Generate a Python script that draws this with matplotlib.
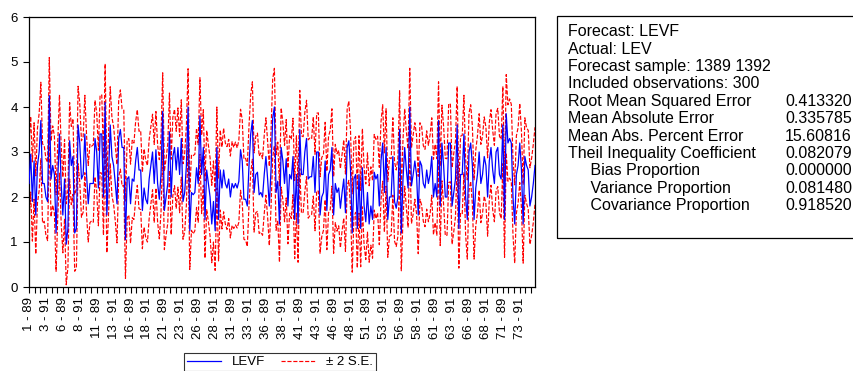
"""
EViews-style forecast evaluation chart: LEVF with +/- 2 S.E. bands
and the forecast statistics box on the right.
"""

import numpy as np
import matplotlib.pyplot as plt
from matplotlib.patches import Rectangle
from matplotlib.ticker import MultipleLocator

plt.rcParams["font.family"] = ["Liberation Sans", "DejaVu Sans"]

# ============================================================
# Data
# ============================================================
levf = [
    2.30, 2.95, 1.90, 2.80, 1.60, 2.70, 3.00, 3.70, 2.30, 2.30,
    2.00, 1.90, 4.25, 2.40, 2.70, 2.50, 1.20, 2.40, 3.40, 2.30,
    1.60, 2.40, 0.95, 1.30, 3.25, 2.70, 2.90, 1.20, 1.30, 3.60,
    3.20, 2.40, 2.50, 3.40, 2.50, 1.85, 2.30, 2.30, 2.30, 3.30,
    3.00, 2.20, 3.40, 3.40, 2.00, 4.10, 1.60, 2.50, 3.60, 2.90,
    2.70, 2.30, 1.85, 3.30, 3.50, 3.10, 3.10, 1.05, 2.40, 2.45,
    1.85, 2.40, 2.35, 2.80, 3.10, 2.60, 2.60, 1.70, 2.20, 1.95,
    1.85, 2.40, 2.70, 3.00, 2.30, 3.05, 2.30, 1.95, 2.50, 3.90,
    1.70, 2.00, 2.30, 3.45, 2.00, 2.90, 3.10, 2.60, 3.10, 2.50,
    3.30, 1.90, 2.10, 2.70, 4.00, 1.25, 2.10, 2.05, 2.10, 2.65,
    2.30, 3.80, 2.50, 3.10, 1.50, 2.60, 2.30, 2.00, 1.40, 1.90,
    1.25, 3.10, 1.50, 2.60, 2.20, 2.60, 2.30, 2.20, 2.40, 2.00,
    2.30, 2.20, 2.30, 2.20, 2.35, 3.05, 2.80, 1.95, 1.95, 1.80,
    2.70, 3.40, 3.70, 2.10, 2.50, 2.55, 2.05, 2.10, 2.00, 2.50,
    2.90, 2.40, 1.80, 2.60, 3.75, 4.00, 2.10, 2.35, 1.40, 3.10,
    2.80, 2.30, 2.85, 1.80, 2.50, 2.40, 2.90, 1.50, 2.50, 1.40,
    3.50, 2.50, 2.50, 3.00, 3.30, 2.40, 2.45, 2.45, 2.90, 2.10,
    3.00, 3.00, 1.60, 2.00, 2.10, 2.80, 1.70, 2.50, 2.60, 3.10,
    1.60, 2.30, 2.10, 2.20, 1.75, 2.10, 2.40, 1.65, 3.10, 3.25,
    2.60, 1.20, 2.40, 2.50, 1.30, 2.50, 1.30, 2.65, 1.80, 1.45,
    2.10, 1.40, 1.80, 1.50, 2.55, 2.40, 2.50, 1.80, 2.80, 3.20,
    2.10, 3.10, 1.50, 2.00, 2.00, 2.90, 1.90, 1.75, 2.00, 3.50,
    1.20, 2.40, 3.10, 2.60, 2.20, 4.00, 2.25, 2.50, 2.80, 2.50,
    1.60, 2.80, 2.70, 2.30, 2.20, 2.60, 2.30, 2.50, 2.90, 2.00,
    2.30, 2.00, 3.70, 1.80, 3.20, 2.70, 2.00, 2.00, 3.20, 3.20,
    1.80, 2.10, 2.40, 3.60, 1.30, 2.50, 2.50, 3.40, 2.00, 1.50,
    3.00, 3.20, 2.70, 1.50, 2.20, 2.50, 3.00, 2.30, 2.50, 2.90,
    2.70, 2.00, 2.80, 3.10, 2.60, 2.30, 3.00, 3.10, 2.50, 2.40,
    3.60, 1.50, 3.85, 3.20, 3.30, 3.20, 2.00, 1.40, 2.50, 2.70,
    3.20, 2.60, 1.40, 2.90, 2.70, 2.60, 1.80, 2.00, 2.30, 2.70,
]

# two standard errors for each forecast
two_se = [
    0.86, 0.84, 0.88, 0.85, 0.87, 0.83, 0.86, 0.85, 0.88, 0.84,
    0.85, 0.87, 0.85, 0.84, 0.88, 0.86, 0.85, 0.83, 0.87, 0.86,
    0.84, 0.88, 0.90, 0.86, 0.85, 0.87, 0.84, 0.85, 0.88, 0.86,
    0.87, 0.85, 0.84, 0.86, 0.88, 0.85, 0.87, 0.83, 0.86, 0.85,
    0.88, 0.84, 0.86, 0.87, 0.85, 0.86, 0.84, 0.88, 0.85, 0.87,
    0.86, 0.84, 0.87, 0.85, 0.88, 0.86, 0.84, 0.86, 0.87, 0.85,
    0.88, 0.86, 0.85, 0.87, 0.84, 0.86, 0.88, 0.85, 0.87, 0.86,
    0.85, 0.88, 0.86, 0.84, 0.87, 0.85, 0.86, 0.88, 0.84, 0.86,
    0.87, 0.85, 0.88, 0.86, 0.84, 0.87, 0.85, 0.86, 0.88, 0.85,
    0.86, 0.84, 0.87, 0.88, 0.85, 0.86, 0.84, 0.87, 0.85, 0.88,
    0.86, 0.85, 0.87, 0.84, 0.86, 0.88, 0.85, 0.87, 0.86, 0.90,
    0.88, 0.90, 0.92, 0.89, 0.91, 0.93, 0.90, 0.92, 0.88, 0.91,
    0.93, 0.90, 0.92, 0.89, 0.91, 0.90, 0.92, 0.89, 0.91, 0.90,
    0.88, 0.87, 0.86, 0.88, 0.85, 0.87, 0.86, 0.88, 0.85, 0.87,
    0.86, 0.84, 0.88, 0.85, 0.87, 0.86, 0.84, 0.87, 0.85, 0.88,
    0.86, 0.85, 0.87, 0.84, 0.86, 0.88, 0.85, 0.87, 0.86, 0.85,
    0.87, 0.86, 0.84, 0.88, 0.85, 0.87, 0.86, 0.84, 0.88, 0.85,
    0.86, 0.87, 0.85, 0.88, 0.84, 0.86, 0.87, 0.85, 0.88, 0.86,
    0.85, 0.87, 0.86, 0.84, 0.88, 0.85, 0.87, 0.86, 0.85, 0.88,
    0.86, 0.87, 0.85, 0.84, 0.88, 0.86, 0.85, 0.87, 0.86, 0.84,
    0.88, 0.85, 0.87, 0.86, 0.84, 0.88, 0.85, 0.86, 0.87, 0.85,
    0.88, 0.86, 0.84, 0.87, 0.85, 0.86, 0.88, 0.85, 0.87, 0.86,
    0.84, 0.88, 0.86, 0.85, 0.87, 0.86, 0.84, 0.88, 0.85, 0.87,
    0.86, 0.85, 0.88, 0.84, 0.86, 0.87, 0.85, 0.88, 0.86, 0.84,
    0.87, 0.85, 0.86, 0.88, 0.84, 0.87, 0.86, 0.85, 0.88, 0.86,
    0.85, 0.87, 0.84, 0.86, 0.88, 0.85, 0.87, 0.86, 0.84, 0.88,
    0.86, 0.85, 0.87, 0.88, 0.84, 0.86, 0.85, 0.87, 0.86, 0.88,
    0.85, 0.87, 0.86, 0.84, 0.88, 0.85, 0.86, 0.87, 0.85, 0.88,
    0.86, 0.84, 0.87, 0.85, 0.88, 0.86, 0.85, 0.87, 0.86, 0.84,
    0.88, 0.85, 0.87, 0.86, 0.84, 0.88, 0.85, 0.86, 0.87, 0.85,
]

tick_labels = [
    "1 - 89", "3 - 91", "6 - 89", "8 - 91", "11 - 89", "13 - 91",
    "16 - 89", "18 - 91", "21 - 89", "23 - 91", "26 - 89", "28 - 91",
    "31 - 89", "33 - 91", "36 - 89", "38 - 91", "41 - 89", "43 - 91",
    "46 - 89", "48 - 91", "51 - 89", "53 - 91", "56 - 89", "58 - 91",
    "61 - 89", "63 - 91", "66 - 89", "68 - 91", "71 - 89", "73 - 91",
]

stat_names = [
    "Root Mean Squared Error", "Mean Absolute Error",
    "Mean Abs. Percent Error", "Theil Inequality Coefficient",
    "     Bias Proportion", "     Variance Proportion",
    "     Covariance Proportion",
]
stat_values = ["0.413320", "0.335785", "15.60816", "0.082079",
               "0.000000", "0.081480", "0.918520"]
header_lines = ["Forecast: LEVF", "Actual: LEV",
                "Forecast sample: 1389 1392", "Included observations: 300"]

# ============================================================
# Plot
# ============================================================
W, H = 854, 371
fig = plt.figure(figsize=(W / 100, H / 100), dpi=100)
ax = fig.add_axes([29 / W, 1 - 287 / H, (535 - 29) / W, (287 - 17) / H])

obs = np.arange(len(levf))
f = np.array(levf)
se2 = np.array(two_se)

ax.plot(obs, f, color="#0000ff", lw=0.9, label="LEVF", zorder=3)
ax.plot(obs, f + se2, color="#ff0000", lw=0.85, ls=(0, (3.5, 1.5)),
        label="± 2 S.E.", zorder=2)
ax.plot(obs, f - se2, color="#ff0000", lw=0.85, ls=(0, (3.5, 1.5)), zorder=2)

ax.set_xlim(0, len(levf) - 1)
ax.set_ylim(0, 6)
ax.set_yticks(range(7))
ax.set_xticks(np.arange(0, 300, 10))
ax.set_xticklabels(tick_labels, rotation=90, fontsize=9.5)
ax.xaxis.set_minor_locator(MultipleLocator(10 / 3))
ax.tick_params(axis="y", labelsize=9.5, direction="out", length=4.5, width=0.8)
ax.tick_params(axis="x", which="both", direction="out", length=4, width=0.8)
for sp in ax.spines.values():
    sp.set_linewidth(0.9)

leg = fig.legend(loc="upper center", bbox_to_anchor=(280 / W, 1 - 346 / H),
                 ncol=2, fontsize=9.5, frameon=True, fancybox=False,
                 edgecolor="black", handlelength=2.6, columnspacing=1.2,
                 borderpad=0.25)
leg.get_frame().set_linewidth(0.8)

# statistics box
fig.patches.append(Rectangle((557 / W, 1 - 238 / H), (W + 5 - 557) / W,
                             (238 - 16) / H, transform=fig.transFigure,
                             fill=False, edgecolor="black", lw=0.9))
line_h = 17.4
y0 = 31.7
for i, txt in enumerate(header_lines):
    fig.text(568 / W, 1 - (y0 + i * line_h) / H, txt, fontsize=11.5, va="center")
for j, (name, val) in enumerate(zip(stat_names, stat_values)):
    yy = 1 - (y0 + (j + 4) * line_h) / H
    fig.text(568 / W, yy, name, fontsize=11.5, va="center")
    fig.text(852 / W, yy, val, fontsize=11.5, va="center", ha="right")

fig.savefig("out.png", dpi=100)
